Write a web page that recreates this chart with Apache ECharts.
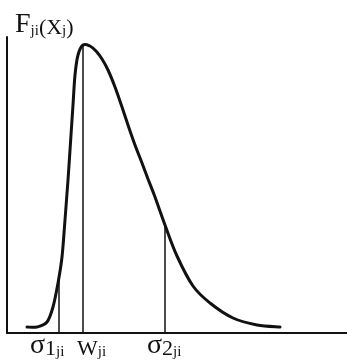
<!DOCTYPE html>
<html><head><meta charset="utf-8">
<script src="https://cdn.jsdelivr.net/npm/echarts@6/dist/echarts.min.js"></script>
<style>html,body{margin:0;padding:0;background:#fff}#c{width:347px;height:362px}</style>
</head><body><div id="c"></div>
<script>
// curve: x position, F value (axis units)
const curveX = [20,30,40,46,51,55,58,61,64,66,68,71,76,83,89,95,101,108,115,121,128,135,141,148,158,170,186,203,226,250,273];
const curveY = [6,6,11,26,50,76,113,153,198,228,258,278,288,287,282,274,263,246,226,208,188,170,154,136,108,77,47,30,15,8,6];
// marker positions and heights
const markNames = ['σ1', 'W', 'σ2'];
const markX = [52, 76, 158];
const markTop = [56, 288, 108];
const labelX = [44, 91, 161];

const chart = echarts.init(document.getElementById('c'));
const FONT = '"Liberation Serif","DejaVu Serif",serif';
const lineSeries = markX.map((x, i) => ({
  type: 'line', symbol: 'none', silent: true,
  lineStyle: {color: '#111', width: 1.5},
  data: [[x, 0], [x, markTop[i]]]
}));
function renderCurve(params, api) {
  if (params.dataIndex !== 0) return null;
  const pts = curveX.map((x, i) => api.coord([x, curveY[i]]));
  let d = 'M' + pts[0][0] + ' ' + pts[0][1];
  for (let i = 0; i < pts.length - 1; i++) {
    const p0 = pts[Math.max(0, i - 1)], p1 = pts[i], p2 = pts[i + 1], p3 = pts[Math.min(pts.length - 1, i + 2)];
    const c1 = [p1[0] + (p2[0] - p0[0]) / 6, p1[1] + (p2[1] - p0[1]) / 6];
    const c2 = [p2[0] - (p3[0] - p1[0]) / 6, p2[1] - (p3[1] - p1[1]) / 6];
    d += ' C' + c1[0] + ' ' + c1[1] + ' ' + c2[0] + ' ' + c2[1] + ' ' + p2[0] + ' ' + p2[1];
  }
  return {type: 'path', shape: {pathData: d}, style: {fill: 'none', stroke: '#111', lineWidth: 3, lineCap: 'round', lineJoin: 'round'}};
}
chart.setOption({
  animation: false,
  grid: {left: 7, right: 0, top: 37, bottom: 29},
  xAxis: {type: 'value', min: 0, max: 340, axisLine: {lineStyle: {color: '#111', width: 2}},
    axisTick: {show: false}, axisLabel: {show: false}, splitLine: {show: false}},
  yAxis: {type: 'value', min: 0, max: 296, axisLine: {show: true, lineStyle: {color: '#111', width: 2}},
    axisTick: {show: false}, axisLabel: {show: false}, splitLine: {show: false}},
  title: {
    left: 10, top: 6,
    text: '{a|F}{b|ji}{c|(X}{b|j}{c|)}',
    textStyle: {fontWeight: 'normal', rich: {
      a: {fontFamily: FONT, fontSize: 28, fontWeight: 'normal', color: '#111', verticalAlign: 'bottom'},
      b: {fontFamily: FONT, fontSize: 15, fontWeight: 'normal', color: '#111', verticalAlign: 'bottom'},
      c: {fontFamily: FONT, fontSize: 22, fontWeight: 'normal', color: '#111', verticalAlign: 'bottom'}
    }}
  },
  graphic: markNames.map((n, i) => {
    const parts = n.length > 1 ? '{s|σ}{d|' + n.slice(1) + '}{j|ji}' : '{w|W}{j|ji}';
    return {
      type: 'text', x: 0, y: 0, id: 'lbl' + i,
      style: {text: parts, textAlign: 'left', textVerticalAlign: 'bottom',
        rich: {
          s: {fontFamily: FONT, fontSize: 28, fill: '#111', verticalAlign: 'bottom'},
          d: {fontFamily: FONT, fontSize: 22, fill: '#111', verticalAlign: 'bottom'},
          w: {fontFamily: FONT, fontSize: 22, fill: '#111', verticalAlign: 'bottom'},
          j: {fontFamily: FONT, fontSize: 15, fill: '#111', verticalAlign: 'bottom'}
        }}
    };
  }),
  series: [{
    type: 'custom', renderItem: renderCurve, silent: true,
    data: curveX.map((x, i) => [x, curveY[i]])
  }].concat(lineSeries)
});
// place labels using the axis scale
chart.setOption({graphic: labelX.map((lx, i) => {
  const p = chart.convertToPixel({gridIndex: 0}, [lx, 0]);
  return {id: 'lbl' + i, x: p[0] - 21, y: 360};
})});
</script></body></html>
